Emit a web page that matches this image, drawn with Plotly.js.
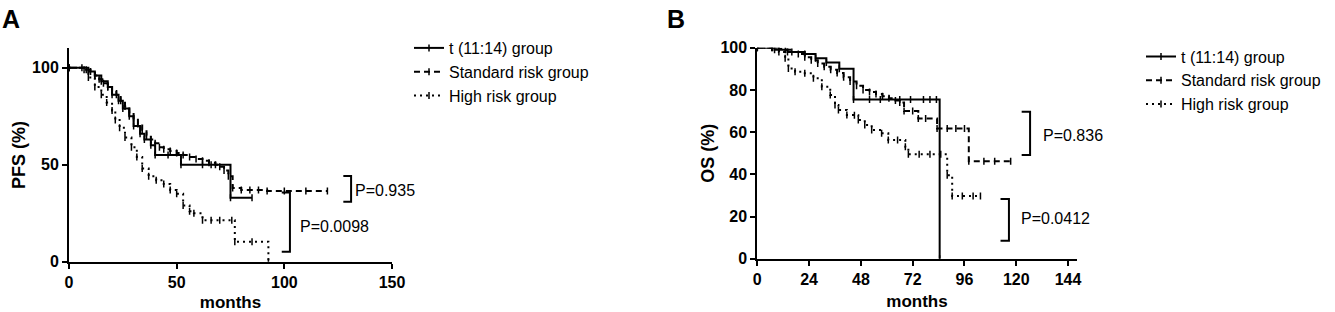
<!DOCTYPE html>
<html><head><meta charset="utf-8">
<script src="https://cdn.plot.ly/plotly-3.0.1.min.js"></script>
<style>html,body{margin:0;padding:0;background:#fff}#chart{width:1335px;height:312px}</style>
</head><body><div id="chart"></div>
<script>
// ---------- data ----------
const groupNames = ['t (11:14) group', 'Standard risk group', 'High risk group'];

// Panel A: PFS (%) vs months
const pfsT1114Months = [0, 9, 12, 15, 18, 20, 23, 25, 28, 30, 33, 35, 38, 40, 46, 52, 62, 66, 75, 85];
const pfsT1114Pct    = [100, 98, 96, 93, 90, 86, 83, 79, 75, 70, 66, 63, 60, 55, 55, 50, 50, 50, 33, 33];

const pfsStdMonths = [0, 6, 8, 10, 12, 14, 16, 18, 20, 22, 24, 26, 28, 30, 32, 34, 36, 38, 40, 42, 44, 47, 50, 53, 56, 59, 62, 65, 68, 70, 72, 74, 76, 80, 84, 88, 92, 100, 110, 120];
const pfsStdPct    = [100, 100, 99, 98, 96, 94, 92, 90, 88, 86, 83, 80, 77, 74, 71, 68, 65, 63, 61, 59, 58, 57, 56, 55, 54, 53, 52, 51, 50, 49, 47, 44, 38, 37, 37, 37, 36.5, 36.5, 36.5, 36.5];

const pfsHighMonths = [0, 7, 9, 12, 15, 17.5, 20, 21.5, 23.5, 26, 29, 31.5, 34, 37, 40.5, 44, 47, 50, 53, 56, 58, 62, 66, 70, 75.6, 77, 85, 92.6];
const pfsHighPct    = [100, 99, 95, 90, 86, 82, 78, 73, 69, 64, 59, 54, 48, 44, 42, 40, 37, 35, 29, 26, 25, 21.4, 21.4, 21.4, 21.4, 10.3, 10.3, 0];

// Panel B: OS (%) vs months
const osT1114Months = [0, 8, 14, 22, 27, 32, 38, 44.6, 52, 57, 66, 71, 77, 80, 83, 84.5];
const osT1114Pct    = [100, 99, 98, 97, 95, 93, 90, 75.5, 75.5, 75.5, 75.5, 75.5, 75.5, 75.5, 75.5, 0];

const osStdMonths = [0, 7, 10, 13, 16, 19, 22, 25, 28, 31, 34, 37, 40, 43, 46, 49, 52, 55, 58, 61, 64, 66, 68, 72, 74.6, 78, 83.3, 88, 92, 96, 98, 105, 110, 117.4];
const osStdPct    = [100, 100, 99.5, 99, 98, 97, 95.5, 94, 92.5, 91, 89.5, 88, 86, 84, 82, 80, 79, 78, 77, 76, 75, 74, 70, 70, 66.5, 66.5, 61.7, 61.7, 61.7, 61.7, 46.2, 46.2, 46.2, 46.2];

const osHighMonths = [0, 6.7, 10, 12.9, 14.4, 17.5, 22, 26, 29.9, 33.8, 36, 37.6, 41.5, 45, 46.8, 49.8, 53, 57.6, 60.7, 65, 68.6, 70, 75, 80, 85, 88, 90.3, 95, 100, 103.4];
const osHighPct    = [100, 100, 98, 95, 90.2, 88.6, 87.9, 85.5, 81.5, 77.6, 72.8, 70.5, 68.1, 68, 65.7, 63.4, 61, 59.4, 56.3, 56.3, 53, 49.5, 49.5, 49.5, 49.5, 39.6, 29.7, 29.7, 29.7, 29.7];

const pValuesA = ['P=0.935', 'P=0.0098'];
const pValuesB = ['P=0.836', 'P=0.0412'];

const xTicksA = [0, 50, 100, 150];
const yTicksA = [0, 50, 100];
const xTicksB = [0, 24, 48, 72, 96, 120, 144];
const yTicksB = [0, 20, 40, 60, 80, 100];

// ---------- styles ----------
const FONT = 'Liberation Sans, Arial, Helvetica, sans-serif';
const W = 1335, H = 312;
const dashes = ['solid', '6px,4px', '2px,4px'];

function km(x, y, i, xa, ya, leg) {
  return {
    type: 'scatter', x: x, y: y, mode: 'lines+markers',
    name: groupNames[i], xaxis: xa, yaxis: ya, legend: leg,
    line: {shape: 'hv', color: '#000', width: 2, dash: dashes[i]},
    marker: {symbol: 'line-ns-open', size: 5, color: '#000', line: {width: 1.5, color: '#000'}},
    hoverinfo: 'x+y'
  };
}

const traces = [
  km(pfsT1114Months, pfsT1114Pct, 0, 'x', 'y', 'legend'),
  km(pfsStdMonths, pfsStdPct, 1, 'x', 'y', 'legend'),
  km(pfsHighMonths, pfsHighPct, 2, 'x', 'y', 'legend'),
  km(osT1114Months, osT1114Pct, 0, 'x2', 'y2', 'legend2'),
  km(osStdMonths, osStdPct, 1, 'x2', 'y2', 'legend2'),
  km(osHighMonths, osHighPct, 2, 'x2', 'y2', 'legend2')
];

function axis(extra) {
  return Object.assign({
    showline: true, linewidth: 2, linecolor: '#000', mirror: false,
    showgrid: false, zeroline: false,
    ticks: 'outside', ticklen: 5, tickwidth: 2, tickcolor: '#000',
    tickfont: {family: FONT, size: 16, color: '#000', weight: 'bold'},
    tickmode: 'array', fixedrange: true
  }, extra);
}
const titleFont = {family: FONT, size: 17, color: '#000', weight: 'bold'};
const yTitleFont = {family: FONT, size: 18, color: '#000', weight: 'bold'};

function px2x(p) { return p / W; }
function px2y(p) { return (H - p) / H; }

// bracket helper (data coords)
function bracket(xa, ya, x0, x1, y0, y1) {
  return {type: 'path', xref: xa, yref: ya,
    path: `M ${x0},${y1} L ${x1},${y1} L ${x1},${y0} L ${x0},${y0}`,
    line: {color: '#000', width: 2}};
}
const pFont = {family: FONT, size: 16, color: '#000'};

const layout = {
  width: W, height: H,
  margin: {l: 0, r: 0, t: 0, b: 0, pad: 0},
  paper_bgcolor: '#fff', plot_bgcolor: '#fff',
  showlegend: true,
  font: {family: FONT, color: '#000'},
  xaxis: axis({domain: [px2x(69), px2x(392)], range: [0, 150], anchor: 'y', tickvals: xTicksA,
    title: {text: 'months', font: titleFont, standoff: 17}}),
  yaxis: axis({domain: [px2y(261.7), px2y(48.3)], range: [0, 110], anchor: 'x', tickvals: yTicksA,
    title: {text: 'PFS (%)', font: yTitleFont, standoff: 2}}),
  xaxis2: axis({domain: [px2x(757.3), px2x(1076.7)], range: [0, 148], anchor: 'y2', tickvals: xTicksB,
    title: {text: 'months', font: titleFont, standoff: 8}}),
  yaxis2: axis({domain: [px2y(258.7), px2y(47.7)], range: [0, 100], anchor: 'x2', tickvals: yTicksB,
    title: {text: 'OS (%)', font: yTitleFont, standoff: 1}}),
  legend: {x: px2x(409), y: px2y(31), xanchor: 'left', yanchor: 'top', bgcolor: 'rgba(0,0,0,0)',
    font: {family: FONT, size: 16, color: '#000'}, tracegroupgap: 0, itemclick: false, itemdoubleclick: false},
  legend2: {x: px2x(1141), y: px2y(39.5), xanchor: 'left', yanchor: 'top', bgcolor: 'rgba(0,0,0,0)',
    font: {family: FONT, size: 16, color: '#000'}, tracegroupgap: 0, itemclick: false, itemdoubleclick: false},
  shapes: [
    bracket('x', 'y', 127.4, 131, 30.9, 44.2),
    bracket('x', 'y', 98.8, 102.6, 5.1, 35.7),
    bracket('x2', 'y2', 122.5, 126.4, 49.1, 69.7),
    bracket('x2', 'y2', 112.7, 116.6, 8.5, 28.3)
  ],
  annotations: [
    {text: 'A', xref: 'paper', yref: 'paper', x: 0, y: px2y(3), xanchor: 'left', yanchor: 'top', showarrow: false,
      font: {family: FONT, size: 25, color: '#000', weight: 'bold'}},
    {text: 'B', xref: 'paper', yref: 'paper', x: px2x(665), y: px2y(3), xanchor: 'left', yanchor: 'top', showarrow: false,
      font: {family: FONT, size: 25, color: '#000', weight: 'bold'}},
    {text: pValuesA[0], xref: 'x', yref: 'y', x: 132, y: 36.5, xanchor: 'left', yanchor: 'middle', showarrow: false, font: pFont},
    {text: pValuesA[1], xref: 'x', yref: 'y', x: 106.2, y: 18, xanchor: 'left', yanchor: 'middle', showarrow: false, font: pFont},
    {text: pValuesB[0], xref: 'x2', yref: 'y2', x: 131.3, y: 58.6, xanchor: 'left', yanchor: 'middle', showarrow: false, font: pFont},
    {text: pValuesB[1], xref: 'x2', yref: 'y2', x: 121.2, y: 19.1, xanchor: 'left', yanchor: 'middle', showarrow: false, font: pFont}
  ]
};

Plotly.newPlot('chart', traces, layout, {staticPlot: true, displayModeBar: false});
</script>
</body></html>
